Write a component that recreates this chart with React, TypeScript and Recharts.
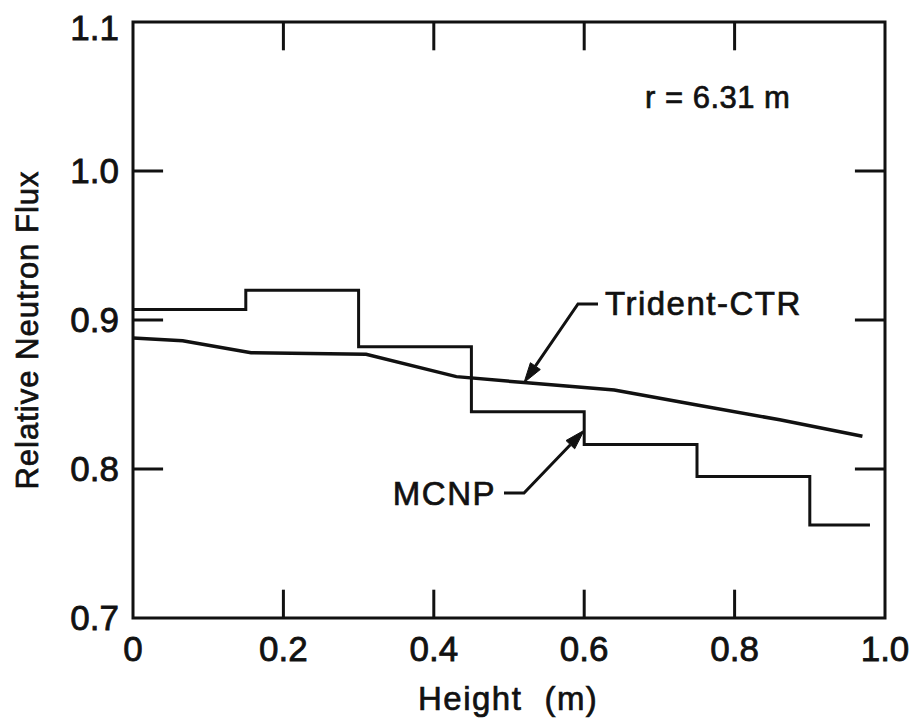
import React from 'react';
import { LineChart, Line, XAxis, YAxis, ReferenceLine, ReferenceArea } from 'recharts';

// Trident-CTR calculation, relative flux vs height
const tridentHeights = [0, 0.066, 0.157, 0.31, 0.43, 0.52, 0.64, 0.75, 0.86, 0.97];
const tridentFlux = [0.888, 0.886, 0.878, 0.877, 0.862, 0.858, 0.853, 0.843, 0.833, 0.822];

// MCNP tally bins (left edges, last entry closes the final bin)
const mcnpEdges = [0, 0.15, 0.3, 0.45, 0.6, 0.75, 0.9, 0.98];
const mcnpFlux = [0.907, 0.92, 0.882, 0.8385, 0.8165, 0.795, 0.7625, 0.7625];

const xTicks = [0, 0.2, 0.4, 0.6, 0.8, 1.0];
const yTicks = [0.7, 0.8, 0.9, 1.0, 1.1];
const innerXTicks = [0.2, 0.4, 0.6, 0.8];
const innerYTicks = [0.8, 0.9, 1.0];

const tridentData = tridentHeights.map((h, i) => ({ h, v: tridentFlux[i] }));
const mcnpData = mcnpEdges.map((h, i) => ({ h, v: mcnpFlux[i] }));

const W = 905;
const H = 712;
const PLOT = { left: 125, right: 877, top: 14, bottom: 610 };
const X_DOMAIN: [number, number] = [0, 1];
const Y_DOMAIN: [number, number] = [0.7, 1.1];

const FONT = "'Liberation Sans', Arial, sans-serif";
const INK = '#111';

const px = (x: number) => PLOT.left + ((x - X_DOMAIN[0]) / (X_DOMAIN[1] - X_DOMAIN[0])) * (PLOT.right - PLOT.left);
const py = (y: number) => PLOT.bottom - ((y - Y_DOMAIN[0]) / (Y_DOMAIN[1] - Y_DOMAIN[0])) * (PLOT.bottom - PLOT.top);

// lettering is a little heavier than a plain regular weight
const ink = { fill: INK, stroke: INK, strokeWidth: 0.7, fontFamily: FONT };

// leader: short horizontal run from the label, then a diagonal ending in a filled arrowhead
const Leader = ({ pts }: { pts: [number, number][] }) => {
  const [x1, y1] = pts[pts.length - 2];
  const [x2, y2] = pts[pts.length - 1];
  const dx = x2 - x1;
  const dy = y2 - y1;
  const len = Math.hypot(dx, dy);
  const ux = dx / len;
  const uy = dy / len;
  const headLen = 20;
  const headW = 6;
  const bx = x2 - ux * headLen;
  const by = y2 - uy * headLen;
  const line = [...pts.slice(0, -1), [bx, by]].map((p) => p.join(',')).join(' ');
  const head = [
    [x2, y2],
    [bx - uy * headW, by + ux * headW],
    [bx + uy * headW, by - ux * headW],
  ]
    .map((p) => p.join(','))
    .join(' ');
  return (
    <g>
      <polyline points={line} fill="none" stroke={INK} strokeWidth={3} />
      <polygon points={head} fill={INK} stroke={INK} strokeWidth={1} />
    </g>
  );
};

export default function App() {
  const tridentTip: [number, number] = [px(0.52), py(0.858)];
  const mcnpTip: [number, number] = [px(0.6), py(0.826)];
  const tickStyle = { ...ink, strokeWidth: 0.8, fontSize: 35 };

  return (
    <LineChart
      width={W}
      height={H}
      margin={{ top: PLOT.top, right: W - PLOT.right, bottom: H - PLOT.bottom - 60, left: PLOT.left - 70 }}
    >
      <XAxis
        dataKey="h"
        type="number"
        domain={X_DOMAIN}
        ticks={xTicks}
        tickFormatter={(v: number) => (v === 0 ? '0' : v.toFixed(1))}
        allowDuplicatedCategory={false}
        axisLine={false}
        tickLine={false}
        tickSize={0}
        tickMargin={18}
        height={60}
        tick={tickStyle}
      />
      <YAxis
        type="number"
        domain={Y_DOMAIN}
        ticks={yTicks}
        tickFormatter={(v: number) => v.toFixed(1)}
        axisLine={false}
        tickLine={false}
        tickSize={0}
        tickMargin={14}
        width={70}
        tick={tickStyle}
      />

      {/* frame */}
      <ReferenceArea x1={0} x2={1} y1={0.7} y2={1.1} fill="none" stroke={INK} strokeWidth={3} />

      {/* inward tick marks on all four sides */}
      {innerXTicks.map((x) => (
        <ReferenceLine key={`b${x}`} segment={[{ x, y: 0.7 }, { x, y: 0.719 }]} stroke={INK} strokeWidth={3} />
      ))}
      {innerXTicks.map((x) => (
        <ReferenceLine key={`t${x}`} segment={[{ x, y: 1.1 }, { x, y: 1.081 }]} stroke={INK} strokeWidth={3} />
      ))}
      {innerYTicks.map((y) => (
        <ReferenceLine key={`l${y}`} segment={[{ x: 0, y }, { x: 0.04, y }]} stroke={INK} strokeWidth={3} />
      ))}
      {innerYTicks.map((y) => (
        <ReferenceLine key={`r${y}`} segment={[{ x: 1, y }, { x: 0.96, y }]} stroke={INK} strokeWidth={3} />
      ))}

      <Line
        data={mcnpData}
        dataKey="v"
        type="stepAfter"
        stroke={INK}
        strokeWidth={3}
        dot={false}
        isAnimationActive={false}
      />
      <Line
        data={tridentData}
        dataKey="v"
        type="linear"
        stroke={INK}
        strokeWidth={3.5}
        dot={false}
        isAnimationActive={false}
      />

      {/* annotations */}
      <text x={637} y={100} fontSize={31} letterSpacing={0.5} {...ink}>
        r = 6.31 m
      </text>

      <text x={597} y={307} fontSize={33} letterSpacing={1.5} {...ink}>
        Trident-CTR
      </text>
      <Leader pts={[[590, 296], [570, 296], tridentTip]} />

      <text x={488} y={497} fontSize={33} letterSpacing={1.5} textAnchor="end" {...ink}>
        MCNP
      </text>
      <Leader pts={[[496, 485], [516, 485], mcnpTip]} />

      {/* axis titles */}
      <text x={410} y={702} fontSize={33} letterSpacing={1.5} {...ink}>
        <tspan>Height</tspan>
        <tspan dx={22}>(m)</tspan>
      </text>
      <text
        x={30}
        y={322}
        fontSize={31}
        letterSpacing={1}
        textAnchor="middle"
        transform="rotate(-90 30 322)"
        {...ink}
      >
        Relative Neutron Flux
      </text>
    </LineChart>
  );
}
